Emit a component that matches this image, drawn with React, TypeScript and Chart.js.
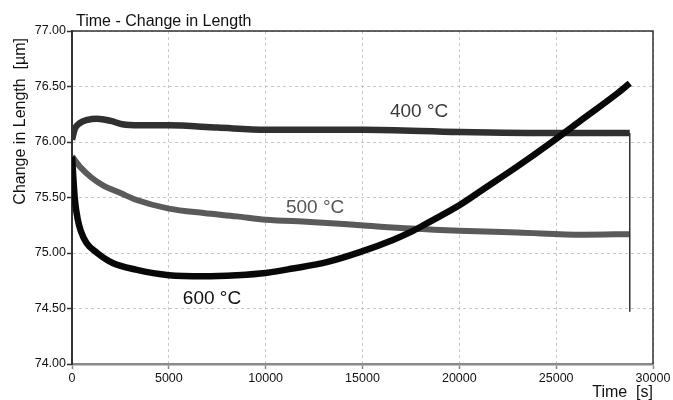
import React, { useEffect, useRef } from "react";
import { Chart, registerables } from "chart.js";

Chart.register(...registerables);

const FONT = '"Liberation Sans", Arial, Helvetica, sans-serif';

// ---- data (time in s, change in length in µm) ----
const time400 = [0, 150, 400, 800, 1300, 2000, 2600, 3500, 5000, 7500, 10000, 15000, 20000, 25000, 28800];
const value400 = [76.02, 76.12, 76.17, 76.2, 76.21, 76.19, 76.16, 76.15, 76.15, 76.13, 76.11, 76.11, 76.09, 76.08, 76.08];

const time500 = [0, 400, 1000, 1600, 2500, 3300, 5000, 6800, 8500, 10000, 12300, 14900, 17500, 20000, 23000, 26400, 28800];
const value500 = [75.87, 75.78, 75.68, 75.61, 75.54, 75.48, 75.4, 75.36, 75.33, 75.3, 75.28, 75.25, 75.22, 75.2, 75.185, 75.165, 75.17];

const time600 = [0, 60, 150, 300, 450, 750, 1300, 2100, 3300, 5000, 6800, 8500, 10000, 11400, 13200, 14900, 16600, 17500, 18300, 19500, 20000, 21200, 23000, 24700, 26400, 28100, 28800];
const value600 = [75.87, 75.7, 75.48, 75.3, 75.2, 75.09, 75.0, 74.91, 74.85, 74.8, 74.79, 74.8, 74.82, 74.86, 74.92, 75.01, 75.12, 75.19, 75.265, 75.38, 75.43, 75.57, 75.78, 75.99, 76.21, 76.43, 76.53];

const endDropTime = [28800, 28800];
const endDropValue = [76.08, 74.47];

const seriesNames = ["400 °C", "500 °C", "600 °C"];
const seriesLabelTime = [17920, 12550, 7230];
const seriesLabelValue = [76.27, 75.41, 74.59];

const chartTitle = "Time - Change in Length";
const xTitle = "Time  [s]";
const yTitle = "Change in Length  [µm]";

const xMin = 0, xMax = 30000, xStep = 5000;
const yMin = 74, yMax = 77, yStep = 0.5;

const toPoints = (ts: number[], vs: number[]) => ts.map((t, i) => ({ x: t, y: vs[i] }));

const decor = {
  id: "decor",
  afterDatasetsDraw(chart: any) {
    const { ctx, chartArea: a, scales } = chart;
    const x = scales.x, y = scales.y;
    ctx.save();
    ctx.strokeStyle = "#333";
    ctx.lineWidth = 1.5;
    ctx.beginPath();
    ctx.moveTo(a.left, a.top);
    ctx.lineTo(a.right, a.top);
    ctx.lineTo(a.right, a.bottom);
    ctx.stroke();

    const labelColors = ["#3a3a3a", "#555555", "#111111"];
    ctx.font = `19px ${FONT}`;
    ctx.textAlign = "center";
    ctx.textBaseline = "middle";
    seriesNames.forEach((n, i) => {
      ctx.fillStyle = labelColors[i];
      ctx.fillText(n, x.getPixelForValue(seriesLabelTime[i]), y.getPixelForValue(seriesLabelValue[i]));
    });

    ctx.fillStyle = "#111";
    ctx.font = `16px ${FONT}`;
    ctx.textAlign = "left";
    ctx.textBaseline = "alphabetic";
    ctx.fillText(chartTitle, a.left + 4, a.top - 5);

    ctx.textAlign = "right";
    ctx.fillText(xTitle, a.right, a.bottom + 33);

    ctx.translate(25, a.top + 7);
    ctx.rotate(-Math.PI / 2);
    ctx.textAlign = "right";
    ctx.fillText(yTitle, 0, 0);
    ctx.restore();
  },
};

const line = (label: string, data: any[], color: string, width: number) => ({
  label,
  data,
  borderColor: color,
  borderWidth: width,
  pointRadius: 0,
  cubicInterpolationMode: "monotone",
});

export default function App() {
  const ref = useRef<HTMLCanvasElement>(null);

  useEffect(() => {
    document.body.style.margin = "0";
    const canvas = ref.current!;
    const chart = new Chart(canvas, {
      type: "line",
      data: {
        datasets: [
          line("end", toPoints(endDropTime, endDropValue), "#333", 1.5),
          line(seriesNames[2], toPoints(time600, value600), "#080808", 6.5),
          line(seriesNames[1], toPoints(time500, value500), "#5a5a5a", 6),
          line(seriesNames[0], toPoints(time400, value400), "#303030", 6.5),
        ],
      },
      options: {
        animation: false,
        responsive: false,
        devicePixelRatio: 1,
        layout: { padding: { top: 31, right: 20, left: 0, bottom: 0 } },
        plugins: {
          legend: { display: false },
          tooltip: { enabled: false },
          title: { display: false },
        },
        scales: {
          x: {
            type: "linear",
            min: xMin,
            max: xMax,
            afterFit: (s: any) => {
              s.height = 36;
            },
            ticks: {
              stepSize: xStep,
              padding: 2,
              maxRotation: 0,
              color: "#111",
              font: { family: FONT, size: 12.5 },
              callback: (v: any) => String(v),
            },
            grid: {
              color: "#c8c8c8",
              lineWidth: 1,
              tickLength: 5,
              tickColor: "#888",
              tickWidth: 1.5,
            },
            border: { color: "#8a8a8a", width: 2.5, dash: [3, 3] },
          },
          y: {
            type: "linear",
            min: yMin,
            max: yMax,
            afterFit: (s: any) => {
              s.width = 72;
            },
            ticks: {
              stepSize: yStep,
              padding: 1,
              color: "#111",
              font: { family: FONT, size: 12.5 },
              callback: (v: any) => Number(v).toFixed(2),
            },
            grid: {
              color: "#c8c8c8",
              lineWidth: 1,
              tickLength: 5,
              tickColor: "#333",
              tickWidth: 1.5,
            },
            border: { color: "#333", width: 2, dash: [3, 3] },
          },
        },
      },
      plugins: [decor],
    } as any);
    return () => chart.destroy();
  }, []);

  return (
    <div style={{ position: "fixed", left: 0, top: 0, width: 673, height: 400, background: "#fff" }}>
      <canvas ref={ref} width={673} height={400} />
    </div>
  );
}
